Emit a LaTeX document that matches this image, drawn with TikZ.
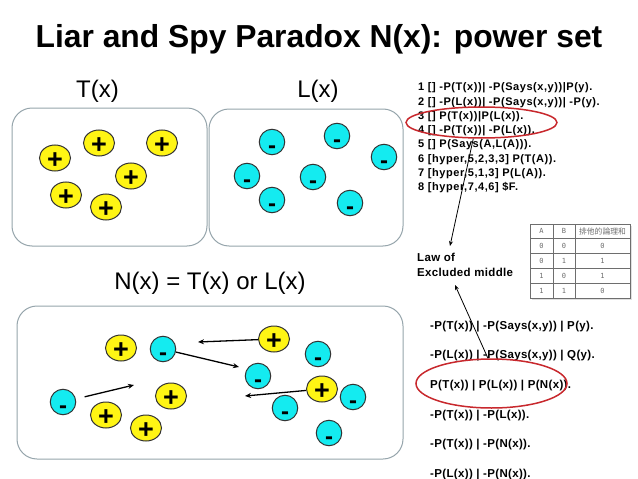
\documentclass[tikz,border=0pt]{standalone}
\usepackage{fontspec}
\setmainfont{Liberation Sans}
\newfontfamily\cjkfont{Noto Sans CJK JP}
\newfontfamily\digitfont{DejaVu Sans Mono}
\newfontfamily\listfontA[LetterSpace=5]{Liberation Sans}
\newfontfamily\listfontB[LetterSpace=3]{Liberation Sans}
\usetikzlibrary{shapes.geometric,arrows.meta}
\definecolor{boxgray}{RGB}{150,165,172}
\definecolor{yel}{RGB}{255,245,20}
\definecolor{cya}{RGB}{20,235,240}
\definecolor{redline}{RGB}{200,40,45}
\definecolor{tabgray}{RGB}{110,110,110}
\tikzset{
  panel/.style={draw=boxgray, line width=1pt, rounded corners=20pt},
  plussign/.style={inner sep=0pt, font=\fontsize{27}{27}\selectfont\bfseries, text height=20pt, text depth=0pt},
  minussign/.style={inner sep=0pt, font=\fontsize{24}{24}\selectfont\bfseries, text height=22pt, text depth=0pt},
  plusdot/.style={ellipse, draw=black!80, fill=yel, line width=1pt, minimum width=31pt, minimum height=26pt, inner sep=0pt, label={[plussign]center:+}},
  minusdot/.style={circle, draw=black!80, fill=cya, line width=1pt, minimum size=25.5pt, inner sep=0pt, label={[minussign]center:-}},
  arr/.style={-{Stealth[length=6pt,width=5pt]}, line width=1.3pt},
  thinarr/.style={-{Stealth[length=5pt,width=4pt]}, line width=0.8pt},
  redell/.style={ellipse, draw=redline, line width=1.5pt, inner sep=0pt},
  lista/.style={anchor=base west, inner sep=0pt, font=\listfontA\fontsize{11}{12}\selectfont\bfseries},
  listb/.style={anchor=base west, inner sep=0pt, font=\listfontB\fontsize{11.5}{13}\selectfont\bfseries},
  lbl/.style={anchor=base, inner sep=0pt, font=\fontsize{24}{28}\selectfont},
  tabtxt/.style={inner sep=0pt, text=tabgray, font=\digitfont\fontsize{7}{8}\selectfont},
}
\begin{document}
\begin{tikzpicture}[x=1pt,y=-1pt]
\useasboundingbox[fill=white] (0,0) rectangle (638,479);

% title
\node[anchor=base, inner sep=0pt, font=\fontsize{31.8}{36}\selectfont\bfseries] (title) at (319,47) {Liar and Spy Paradox N(x): power set};

% labels
\node[lbl] (tl) at (97.5,97) {T(x)};
\node[lbl] (ll) at (318,97) {L(x)};
\node[lbl] (nl) at (210,289) {N(x) = T(x) or L(x)};

% panels
\draw[panel] (12,108) rectangle (207,246);
\draw[panel] (209,109) rectangle (403,246);
\draw[panel] (17,306) rectangle (403,459);

% T(x) panel
\node[plusdot] (t1) at (55,158) {};
\node[plusdot] (t2) at (99,143) {};
\node[plusdot] (t3) at (162,143) {};
\node[plusdot] (t4) at (131,176) {};
\node[plusdot] (t5) at (66,195) {};
\node[plusdot] (t6) at (106,207) {};

% L(x) panel
\node[minusdot] (f1) at (272,142) {};
\node[minusdot] (f2) at (337,136) {};
\node[minusdot] (f3) at (384,157) {};
\node[minusdot] (f4) at (247,176) {};
\node[minusdot] (f5) at (313,177) {};
\node[minusdot] (f6) at (272,200) {};
\node[minusdot] (f7) at (350,203) {};

% N(x) panel
\node[plusdot] (n1) at (121,348) {};
\node[minusdot] (n2) at (163,349) {};
\node[plusdot] (n3) at (274,339) {};
\node[minusdot] (n4) at (318,354) {};
\node[minusdot] (n5) at (258,376) {};
\node[plusdot] (n6) at (322,389) {};
\node[minusdot] (n7) at (353,397) {};
\node[minusdot] (n8) at (285,408) {};
\node[minusdot] (n9) at (329,433) {};
\node[minusdot] (n10) at (63,402) {};
\node[plusdot] (n11) at (106,415) {};
\node[plusdot] (n12) at (171,396) {};
\node[plusdot] (n13) at (146,428) {};

\coordinate (c1) at (198,342);
\coordinate (c2) at (239,367);
\coordinate (c3) at (134,385);
\coordinate (c4) at (245,396);
\draw[arr] (n3) -- (c1);
\draw[arr] (n2) -- (c2);
\draw[arr, shorten <=9pt] (n10) -- (c3);
\draw[arr] (n6) -- (c4);

% upper list
\node[lista] (a1) at (418,90.7) {1 [] -P(T(x))| -P(Says(x,y))|P(y).};
\node[lista] (a2) at (418,105) {2 [] -P(L(x))| -P(Says(x,y))| -P(y).};
\node[lista] (a3) at (418,119.3) {3 [] P(T(x))|P(L(x)).};
\node[lista] (a4) at (418,133.6) {4 [] -P(T(x))| -P(L(x)).};
\node[lista] (a5) at (418,147.9) {5 [] P(Says(A,L(A))).};
\node[lista] (a6) at (418,162.2) {6 [hyper,5,2,3,3] P(T(A)).};
\node[lista] (a7) at (418,176.5) {7 [hyper,5,1,3] P(L(A)).};
\node[lista] (a8) at (418,190.8) {8 [hyper,7,4,6] \$F.};

\node[redell, minimum width=151pt, minimum height=31pt] (e1) at (481.5,122.5) {};

% law of excluded middle
\node[listb] (law1) at (417,261.7) {Law of};
\node[listb] (law2) at (417,276) {Excluded middle};
\coordinate (lawtop) at (450,246);
\coordinate (lawbot) at (455,285);
\draw[thinarr] (e1.-117) -- (lawtop);

% lower list
\node[listb] (b1) at (430,329) {-P(T(x)) | -P(Says(x,y)) | P(y).};
\node[listb] (b2) at (430,358.7) {-P(L(x)) | -P(Says(x,y)) | Q(y).};
\node[listb] (b3) at (430,388.4) {P(T(x)) | P(L(x)) | P(N(x)).};
\node[listb] (b4) at (430,418.1) {-P(T(x)) | -P(L(x)).};
\node[listb] (b5) at (430,447.8) {-P(T(x)) | -P(N(x)).};
\node[listb] (b6) at (430,477.5) {-P(L(x)) | -P(N(x)).};

\node[redell, minimum width=151pt, minimum height=49pt] (e2) at (491.5,383.5) {};
\draw[thinarr] (e2.98) -- (lawbot);

% truth table
\fill[black!12] (532,226) rectangle (632,300);
\fill[white] (530,224) rectangle (630,298);
\draw[tabgray, line width=0.9pt] (530,224) rectangle (630,298);
\foreach \yy in {238.8,253.6,268.4,283.2} \draw[tabgray, line width=0.8pt] (530,\yy) -- (630,\yy);
\foreach \xx in {553,575} \draw[tabgray, line width=0.8pt] (\xx,224) -- (\xx,298);
\node[tabtxt] (h1) at (541.5,231.4) {A};
\node[tabtxt] (h2) at (564,231.4) {B};
\node[tabtxt, font=\cjkfont\fontsize{7.8}{8}\selectfont] (h3) at (602.5,231.4) {排他的論理和};
\node[tabtxt] (r11) at (541.5,246.2) {0};
\node[tabtxt] (r12) at (564,246.2) {0};
\node[tabtxt] (r13) at (602.5,246.2) {0};
\node[tabtxt] (r21) at (541.5,261) {0};
\node[tabtxt] (r22) at (564,261) {1};
\node[tabtxt] (r23) at (602.5,261) {1};
\node[tabtxt] (r31) at (541.5,275.8) {1};
\node[tabtxt] (r32) at (564,275.8) {0};
\node[tabtxt] (r33) at (602.5,275.8) {1};
\node[tabtxt] (r41) at (541.5,290.6) {1};
\node[tabtxt] (r42) at (564,290.6) {1};
\node[tabtxt] (r43) at (602.5,290.6) {0};
\end{tikzpicture}
\end{document}
